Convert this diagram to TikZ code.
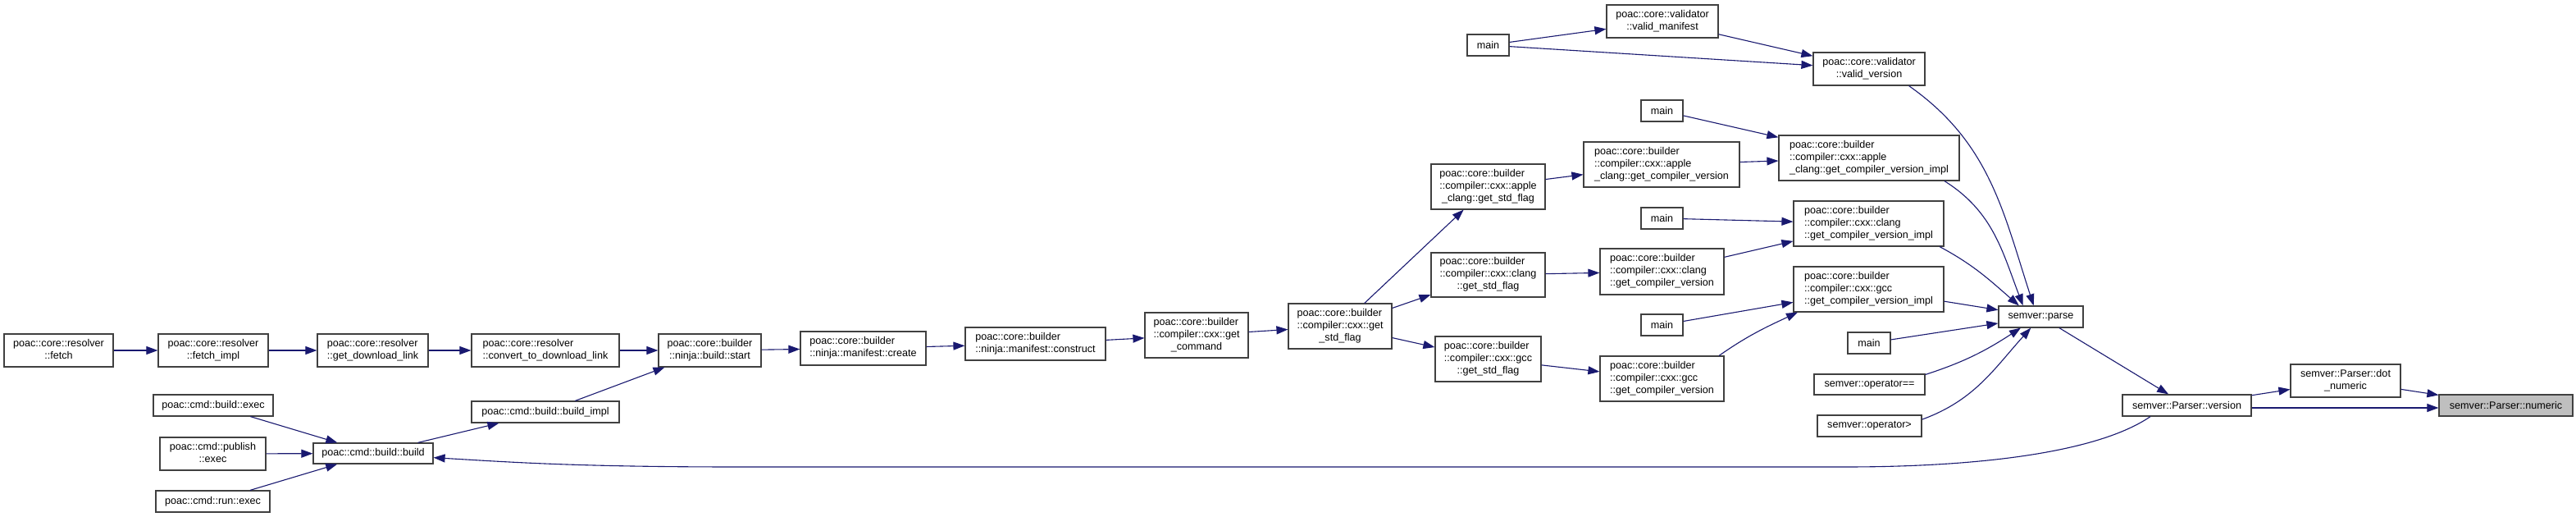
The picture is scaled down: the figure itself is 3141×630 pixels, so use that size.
\documentclass[tikz,border=0pt]{standalone}
\usepackage{fontspec}
\setmainfont{Liberation Sans}
\usetikzlibrary{arrows.meta}
\definecolor{edgec}{HTML}{191970}
\definecolor{nodeb}{HTML}{404040}
\definecolor{hilite}{HTML}{BFBFBF}
\newcommand\dl[2]{\begin{tabular}{@{}l@{}}#1\\\multicolumn{1}{@{}c@{}}{#2}\end{tabular}}
\newcommand\bx[7][]{\node[box,#1,minimum width={(#5-#3)*0.5pt},minimum height={(#6-#4)*0.5pt}] (#2) at ({(#3+#5)/2},{(#4+#6)/2}) {#7};}
\tikzset{
  box/.style={draw=nodeb, fill=white, line width=0.6pt, inner sep=0pt, font=\fontsize{6.3}{7.5}\selectfont},
  arr/.style={draw=edgec, line width=0.55pt, -{Triangle[length=7pt,width=5pt]}, fill=none},
}
\begin{document}
\begin{tikzpicture}[x=0.5pt,y=-0.5pt]
\fill[white] (0,0) rectangle (3141,630);
\useasboundingbox (0,0) rectangle (3141,630);
% nodes
\bx{fetch}{5}{407}{138}{447}{\dl{poac::core::resolver}{::fetch}}
\bx{fetchimpl}{193}{407}{327}{447}{\dl{poac::core::resolver}{::fetch\_impl}}
\bx{getdl}{387}{407}{522}{447}{\dl{poac::core::resolver}{::get\_download\_link}}
\bx{conv}{575}{407}{755}{447}{\dl{poac::core::resolver}{::convert\_to\_download\_link}}
\bx{bexec}{187}{481}{333}{507}{poac::cmd::build::exec}
\bx{bimpl}{575}{489}{755}{515}{poac::cmd::build::build\_impl}
\bx{pexec}{195}{533}{324}{573}{\dl{poac::cmd::publish}{::exec}}
\bx{bbuild}{382}{540}{528}{565}{poac::cmd::build::build}
\bx{rexec}{190}{598}{329}{624}{poac::cmd::run::exec}
\bx{start}{803}{407}{928}{447}{\dl{poac::core::builder}{::ninja::build::start}}
\bx{create}{976}{404}{1129}{445}{\dl{poac::core::builder}{::ninja::manifest::create}}
\bx{construct}{1177}{399}{1348}{439}{\dl{poac::core::builder}{::ninja::manifest::construct}}
\bx{getcmd}{1396}{381}{1522}{436}{\dl{poac::core::builder\\::compiler::cxx::get}{\_command}}
\bx{stdflag}{1571}{370}{1697}{425}{\dl{poac::core::builder\\::compiler::cxx::get}{\_std\_flag}}
\bx{astd}{1745}{200}{1884}{255}{\dl{poac::core::builder\\::compiler::cxx::apple}{\_clang::get\_std\_flag}}
\bx{cstd}{1745}{308}{1884}{362}{\dl{poac::core::builder\\::compiler::cxx::clang}{::get\_std\_flag}}
\bx{gstd}{1750}{410}{1879}{465}{\dl{poac::core::builder\\::compiler::cxx::gcc}{::get\_std\_flag}}
\bx{agcv}{1931}{173}{2121}{228}{\dl{poac::core::builder\\::compiler::cxx::apple}{\_clang::get\_compiler\_version}}
\bx{mainc}{2001}{253}{2052}{279}{main}
\bx{cgcv}{1951}{303}{2102}{359}{\dl{poac::core::builder\\::compiler::cxx::clang}{::get\_compiler\_version}}
\bx{maing}{2001}{383}{2052}{409}{main}
\bx{ggcv}{1951}{434}{2102}{489}{\dl{poac::core::builder\\::compiler::cxx::gcc}{::get\_compiler\_version}}
\bx{aimpl}{2169}{165}{2389}{220}{\dl{poac::core::builder\\::compiler::cxx::apple}{\_clang::get\_compiler\_version\_impl}}
\bx{cimpl}{2187}{245}{2370}{300}{\dl{poac::core::builder\\::compiler::cxx::clang}{::get\_compiler\_version\_impl}}
\bx{gimpl}{2187}{325}{2370}{380}{\dl{poac::core::builder\\::compiler::cxx::gcc}{::get\_compiler\_version\_impl}}
\bx{mainp}{2253}{405}{2305}{431}{main}
\bx{opeq}{2212}{456}{2347}{481}{semver::operator==}
\bx{opgt}{2216}{506}{2343}{532}{semver::operator>}
\bx{parse}{2437}{373}{2540}{399}{semver::parse}
\bx{version}{2588}{481}{2745}{507}{semver::Parser::version}
\bx{dotnum}{2793}{444}{2927}{484}{\dl{semver::Parser::dot}{\_numeric}}
\bx[fill=hilite]{numeric}{2974}{481}{3137}{507}{semver::Parser::numeric}
\bx{maint}{1789}{42}{1840}{68}{main}
\bx{vman}{1959}{6}{2095}{46}{\dl{poac::core::validator}{::valid\_manifest}}
\bx{vver}{2211}{64}{2347}{104}{\dl{poac::core::validator}{::valid\_version}}
\bx{maina}{2001}{122}{2052}{148}{main}
% edges
\draw[arr] (fetch) -- (fetchimpl);
\draw[arr] (fetchimpl) -- (getdl);
\draw[arr] (getdl) -- (conv);
\draw[arr] (conv) -- (start);
\draw[arr] (bimpl) -- (start);
\draw[arr] (bexec) -- (bbuild);
\draw[arr] (pexec) -- (bbuild);
\draw[arr] (rexec) -- (bbuild);
\draw[arr] (bbuild) -- (bimpl);
\draw[arr] (start) -- (create);
\draw[arr] (create) -- (construct);
\draw[arr] (construct) -- (getcmd);
\draw[arr] (getcmd) -- (stdflag);
\draw[arr] (stdflag) -- (astd);
\draw[arr] (stdflag) -- (cstd);
\draw[arr] (stdflag) -- (gstd);
\draw[arr] (astd) -- (agcv);
\draw[arr] (cstd) -- (cgcv);
\draw[arr] (gstd) -- (ggcv);
\draw[arr] (agcv) -- (aimpl);
\draw[arr] (maina) -- (aimpl);
\draw[arr] (mainc) -- (cimpl);
\draw[arr] (cgcv) -- (cimpl);
\draw[arr] (maing) -- (gimpl);
\draw[arr] (ggcv.22) to[out=35,in=205] (gimpl.198);
\draw[arr] (maint) -- (vman);
\draw[arr] (maint) -- (vver);
\draw[arr] (vman) -- (vver);
\draw[arr] (vver.337) to[out=-35,in=108] (parse.123);
\draw[arr] (aimpl.-17) to[out=-32,in=111] (parse.148);
\draw[arr] (cimpl.-18) to[out=-28,in=139] (parse.153);
\draw[arr] (gimpl) -- (parse);
\draw[arr] (mainp) -- (parse);
\draw[arr] (opeq.10) to[out=18,in=213] (parse.209);
\draw[arr] (opgt.7) to[out=20,in=228] (parse.228);
\draw[arr] (parse) -- (version);
\draw[arr] (version) -- (dotnum);
\draw[arr] (dotnum) -- (numeric);
\draw[arr] ([yshift=-1.5pt]version.east) -- ([yshift=-1.5pt]numeric.west);
\draw[arr] (version.197) .. controls (2560,550) and (2420,569) .. (2250,569) -- (900,569) .. controls (700,569) and (620,563) .. (bbuild.-4);
\end{tikzpicture}
\end{document}
